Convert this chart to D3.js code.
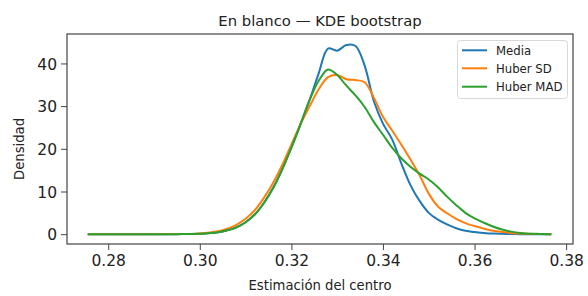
<!DOCTYPE html>
<html><head><meta charset="utf-8">
<script src="https://cdn.jsdelivr.net/npm/d3@7"></script>
<style>
html,body{margin:0;padding:0;background:#fff;}
text{font-family:"DejaVu Sans",sans-serif;fill:#222;}
</style></head>
<body><svg id="c" width="588" height="296"></svg>
<script>
const xs = [0.2757,0.285,0.295,0.300,0.304,0.306,0.308,0.310,0.312,0.314,0.316,0.318,0.320,0.322,0.324,0.326,0.328,0.330,0.332,0.334,0.336,0.338,0.340,0.342,0.344,0.346,0.348,0.350,0.352,0.354,0.356,0.358,0.360,0.362,0.364,0.366,0.368,0.370,0.373,0.3766];
const media = [0,0,0.01,0.1,0.45,0.9,1.6,2.8,4.6,7.3,10.8,15.2,20.3,25.8,31.5,37.8,43.5,43.0,44.3,44.1,39.5,31.2,25.9,22.2,16.6,11.5,7.8,5.0,3.4,2.3,1.4,0.8,0.5,0.3,0.15,0.08,0.03,0.01,0,0];
const huberSD = [0,0,0.02,0.15,0.7,1.3,2.2,3.6,5.6,8.5,12.0,16.2,21.0,25.8,30.0,34.0,36.8,37.3,36.3,36.1,35.6,32.0,27.5,24.3,21.0,17.5,13.8,9.5,6.5,4.9,3.6,2.6,1.9,1.3,0.8,0.5,0.3,0.15,0.05,0];
const huberMAD = [0,0,0.01,0.1,0.45,0.9,1.6,2.8,4.6,7.3,10.8,15.2,20.3,25.8,31.5,36.0,38.6,37.3,34.8,32.5,29.8,26.3,23.3,20.3,17.8,15.8,14.2,12.8,11.0,8.8,6.8,5.0,3.7,2.7,1.8,1.1,0.6,0.3,0.1,0];
const seriesNames = ["Media","Huber SD","Huber MAD"];
const seriesColors = ["#1f77b4","#ff7f0e","#2ca02c"];
const xTicks = [0.28,0.30,0.32,0.34,0.36,0.38];
const yTicks = [0,10,20,30,40];
const title = "En blanco — KDE bootstrap";
const xLabel = "Estimación del centro";
const yLabel = "Densidad";

const svg = d3.select("#c");
const L=67,R=573,T=34,B=244;
const x = d3.scaleLinear().domain([0.2710,0.3815]).range([L,R]);
const y = d3.scaleLinear().domain([-2.3,46.9]).range([B,T]);

const series=[media,huberSD,huberMAD];
const line = d3.line().x((d,i)=>x(xs[i])).y(d=>y(d)).curve(d3.curveCatmullRom.alpha(0.5));
const g = svg.append("g");
series.forEach((s,k)=>{
  g.append("path").datum(s).attr("d",line).attr("fill","none")
   .attr("stroke",seriesColors[k]).attr("stroke-width",2).attr("stroke-linejoin","round").attr("stroke-linecap","round");
});

const xa = svg.append("g").attr("transform",`translate(0,${B})`)
  .call(d3.axisBottom(x).tickValues(xTicks).tickFormat(d3.format(".2f")).tickSize(6).tickPadding(5));
const ya = svg.append("g").attr("transform",`translate(${L},0)`)
  .call(d3.axisLeft(y).tickValues(yTicks).tickFormat(d3.format("d")).tickSize(6).tickPadding(4));
[xa,ya].forEach(a=>{a.select(".domain").remove();a.selectAll("line").attr("stroke","#444");a.selectAll("text").attr("font-family","DejaVu Sans").attr("fill","#222");});
xa.selectAll("text").attr("font-size",15.5);
ya.selectAll("text").attr("font-size",15.5).attr("dy","0.36em");

svg.append("rect").attr("x",L).attr("y",T).attr("width",R-L).attr("height",B-T)
  .attr("fill","none").attr("stroke","#444").attr("stroke-width",1.2);

svg.append("text").attr("x",(L+R)/2).attr("y",26).attr("text-anchor","middle").attr("font-size",14.8).text(title);
svg.append("text").attr("x",(L+R)/2).attr("y",290).attr("text-anchor","middle").attr("font-size",13.2).text(xLabel);
svg.append("text").attr("transform",`translate(24,${(T+B)/2+10}) rotate(-90)`).attr("text-anchor","middle").attr("font-size",13.2).text(yLabel);

const lg = svg.append("g");
lg.append("rect").attr("x",457.5).attr("y",40.5).attr("width",110).attr("height",58).attr("rx",3)
  .attr("fill","#fff").attr("fill-opacity",0.8).attr("stroke","#d8d8d8");
seriesNames.forEach((n,k)=>{
  const yy=[50.3,68.3,86.7][k];
  lg.append("line").attr("x1",462).attr("x2",487).attr("y1",yy).attr("y2",yy).attr("stroke",seriesColors[k]).attr("stroke-width",2);
  lg.append("text").attr("x",496).attr("y",yy).attr("dy","0.36em").attr("font-size",11.7).text(n);
});
</script></body></html>
